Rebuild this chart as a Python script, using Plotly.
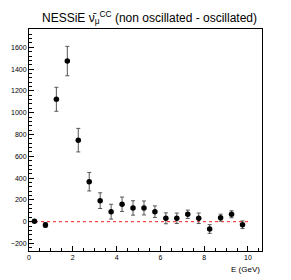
import plotly.graph_objects as go

energy = [0.25, 0.75, 1.25, 1.75, 2.25, 2.75, 3.25, 3.75, 4.25, 4.75,
          5.25, 5.75, 6.25, 6.75, 7.25, 7.75, 8.25, 8.75, 9.25, 9.75]
diff = [4, -30, 1123, 1474, 748, 367, 193, 92, 160, 126,
        126, 92, 31, 31, 68, 31, -67, 37, 68, -28]
err = [12, 23, 110, 135, 108, 85, 72, 68, 66, 66,
       64, 53, 50, 48, 38, 48, 40, 32, 32, 35]
zero_x = [0, 10]
zero_y = [0, 0]

fig = go.Figure()
fig.add_trace(go.Scatter(x=zero_x, y=zero_y, mode="lines",
                         line=dict(color="#ff1a1a", width=1, dash="dot"),
                         hoverinfo="skip", showlegend=False))
fig.add_trace(go.Scatter(x=energy, y=diff, mode="markers",
                         marker=dict(color="black", size=5.5, symbol="circle"),
                         error_y=dict(type="data", array=err, color="#555555",
                                      thickness=1, width=2),
                         showlegend=False))

axis_font = dict(family="Liberation Sans, Arial, sans-serif", size=7, color="black")
fig.update_layout(
    width=283, height=272,
    margin=dict(l=21, r=29, t=21, b=29),
    paper_bgcolor="white", plot_bgcolor="white",
    title=dict(text="NESSiE \u03bd\u0304<sub>\u03bc</sub><sup>CC</sup> (non oscillated - oscillated)",
               x=0.5, xanchor="center", y=0.965, yanchor="middle",
               font=dict(family="Liberation Sans, Arial, sans-serif", size=12, color="black")),
    xaxis=dict(range=[0, 10.64], showgrid=False, zeroline=False, automargin=False,
               showline=True, linecolor="black", linewidth=1, mirror=True,
               ticks="inside", ticklen=5, tickcolor="black", dtick=2, tick0=0,
               tickfont=axis_font,
               minor=dict(ticks="inside", ticklen=3, dtick=0.5, tickcolor="black", showgrid=False)),
    yaxis=dict(range=[-269, 1768], showgrid=False, zeroline=False, automargin=False,
               showline=True, linecolor="black", linewidth=1, mirror=True,
               ticks="inside", ticklen=5, tickcolor="black", dtick=200, tick0=0,
               tickfont=axis_font,
               minor=dict(ticks="inside", ticklen=3, dtick=40, tickcolor="black", showgrid=False)),
    annotations=[dict(text="E (GeV)", xref="paper", yref="paper", x=1.0, y=-0.055,
                      xanchor="right", yanchor="top", showarrow=False,
                      font=dict(family="Liberation Sans, Arial, sans-serif", size=8, color="black"))],
)
fig.write_html("out.html")
